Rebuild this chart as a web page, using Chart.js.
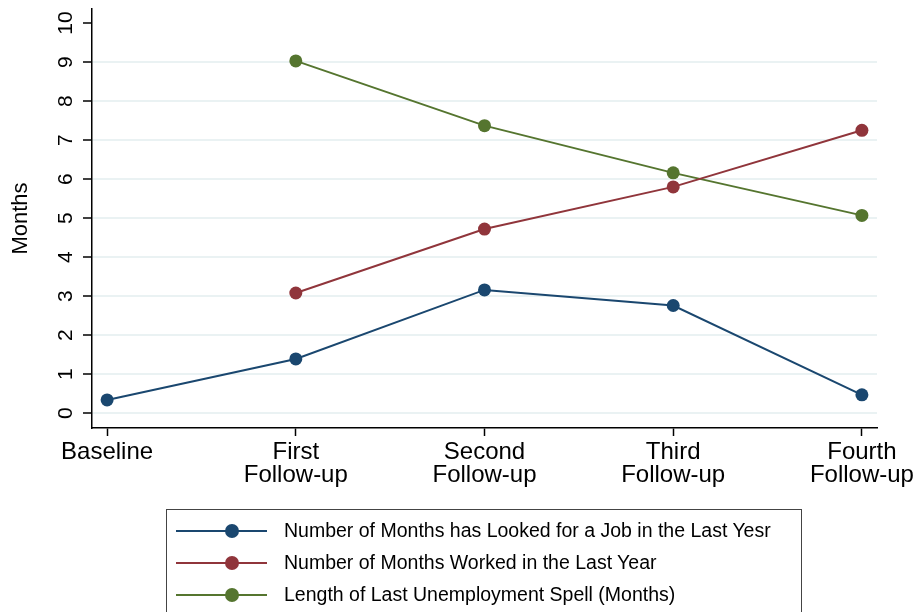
<!DOCTYPE html>
<html>
<head>
<meta charset="utf-8">
<script src="https://cdn.jsdelivr.net/npm/chart.js@4"></script>
<style>
    html, body { margin: 0; padding: 0; background: #fff; }
    #wrap { position: relative; width: 918px; height: 612px; overflow: hidden; }
    #legend {
        position: absolute; left: 166px; top: 509px; width: 636px; height: 140px;
        border: 1.5px solid #444; box-sizing: border-box;
        font-family: "Liberation Sans", Arial, sans-serif; font-size: 19.5px; color: #000;
    }
    .row { position: absolute; left: 0; height: 20px; }
    .sample { position: absolute; left: 9px; top: 9px; width: 91px; height: 2px; }
    .dot { position: absolute; left: 49px; top: -6px; width: 14px; height: 14px; border-radius: 50%; }
    .txt { position: absolute; left: 117px; top: -1px; white-space: nowrap; line-height: 20px; }
</style>
</head>
<body>
<div id="wrap">
    <canvas id="chart" width="918" height="612"></canvas>
    <div id="legend"></div>
</div>
<script>
const categories = ['Baseline', 'First Follow-up', 'Second Follow-up', 'Third Follow-up', 'Fourth Follow-up'];
const yTicks = [0, 1, 2, 3, 4, 5, 6, 7, 8, 9, 10];

const lookedForJob = [0.34, 1.39, 3.16, 2.76, 0.47];
const monthsWorked = [null, 3.08, 4.72, 5.80, 7.25];
const unemploymentSpell = [null, 9.03, 7.37, 6.16, 5.07];

const seriesNames = [
    'Number of Months has Looked for a Job in the Last Yesr',
    'Number of Months Worked in the Last Year',
    'Length of Last Unemployment Spell (Months)'
];
const seriesColors = ['#1a476f', '#90353b', '#55752f'];

const toPoints = arr => arr.map((v, i) => ({ x: i, y: v })).filter(p => p.y !== null);
const font = "'Liberation Sans', Arial, sans-serif";

const datasets = [lookedForJob, monthsWorked, unemploymentSpell].map((arr, i) => ({
    label: seriesNames[i],
    data: toPoints(arr),
    borderColor: seriesColors[i],
    backgroundColor: seriesColors[i],
    borderWidth: 2,
    pointRadius: 6.5,
    pointBorderWidth: 0,
    tension: 0
}));

new Chart(document.getElementById('chart'), {
    type: 'line',
    data: { datasets },
    options: {
        responsive: false,
        animation: false,
        layout: { padding: { top: 9, right: 41, left: 0, bottom: 0 } },
        plugins: { legend: { display: false }, tooltip: { enabled: false } },
        scales: {
            x: {
                type: 'linear',
                min: -0.08,
                max: 4.08,
                afterBuildTicks: s => { s.ticks = categories.map((c, i) => ({ value: i })); },
                afterFit: s => { s.height = 184; s.paddingLeft = 0; s.paddingRight = 0; },
                border: { color: '#000', width: 1.5 },
                grid: { drawOnChartArea: false, drawTicks: true, tickLength: 8, tickColor: '#000', tickWidth: 1.5 },
                ticks: {
                    color: '#000',
                    padding: 5,
                    maxRotation: 0,
                    font: { family: font, size: 24, lineHeight: 0.96 },
                    callback: v => categories[v] ? categories[v].split(' ') : ''
                }
            },
            y: {
                min: -0.38,
                max: 10.36,
                afterBuildTicks: s => { s.ticks = yTicks.map(v => ({ value: v })); },
                afterFit: s => { s.width = 92; s.paddingTop = 0; s.paddingBottom = 0; },
                border: { color: '#000', width: 1.5 },
                grid: {
                    color: ctx => (ctx.tick && ctx.tick.value === 10) ? 'rgba(0,0,0,0)' : '#eaf2f3',
                    lineWidth: 2,
                    drawTicks: true,
                    tickLength: 9,
                    tickColor: '#000',
                    tickWidth: 1.5
                },
                ticks: {
                    color: '#000',
                    padding: 5,
                    minRotation: 90,
                    maxRotation: 90,
                    crossAlign: 'center',
                    font: { family: font, size: 21 }
                },
                title: {
                    display: true,
                    text: 'Months',
                    color: '#000',
                    padding: { top: 8, bottom: 0 },
                    font: { family: font, size: 22 }
                }
            }
        }
    }
});

// legend in the Stata style: line with a marker in the middle
const legend = document.getElementById('legend');
seriesNames.forEach((name, i) => {
    const row = document.createElement('div');
    row.className = 'row';
    row.style.top = (11 + i * 32) + 'px';
    row.innerHTML = `<div class="sample" style="background:${seriesColors[i]}">
            <div class="dot" style="background:${seriesColors[i]}"></div></div>
        <div class="txt">${name}</div>`;
    legend.appendChild(row);
});
</script>
</body>
</html>
